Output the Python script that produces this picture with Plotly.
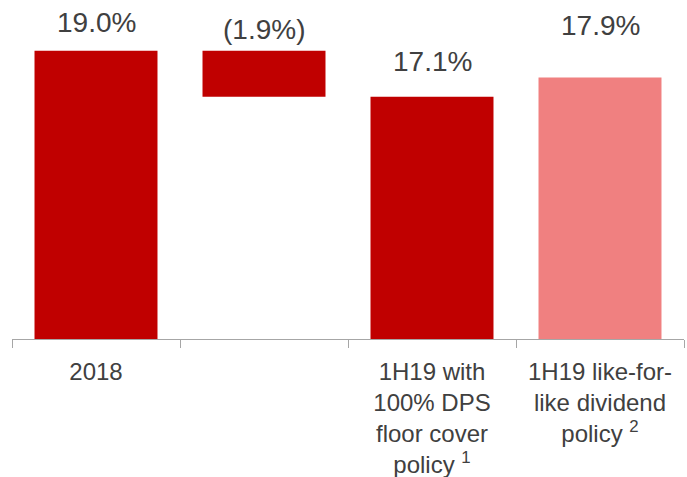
import plotly.graph_objects as go

# Capital ratio bridge: 2018 -> 1H19
category_keys = ["FY2018", "movement", "1H19 floor", "1H19 like-for-like"]
tick_labels = [
    "2018",
    "",
    "1H19 with<br>100% DPS<br>floor cover<br>policy <sup>1</sup>",
    "1H19 like-for-<br>like dividend<br>policy <sup>2</sup>",
]
values = [19.0, -1.9, 17.1, 17.9]          # % ; second entry is the movement
is_step = [False, True, False, False]        # floating (bridge) bar or total bar
value_labels = ["19.0%", "(1.9%)", "17.1%", "17.9%"]

# styling
bar_colors = ["#C00000", "#C00000", "#C00000", "#F08080"]
label_shift = [28, 21, 35, 52]               # px above bar top to label centre
text_color = "#404040"
font_family = "Liberation Sans, Arial, sans-serif"

# build bar heights / bases for the bridge
heights, bases, tops = [], [], []
running = 0.0
for v, step in zip(values, is_step):
    if step:
        start = running
        end = running + v
        bases.append(min(start, end))
        heights.append(abs(v))
        tops.append(max(start, end))
        running = end
    else:
        bases.append(0)
        heights.append(v)
        tops.append(v)
        running = v

fig = go.Figure(
    go.Bar(
        x=category_keys,
        y=heights,
        base=bases,
        marker=dict(color=bar_colors, line=dict(width=0)),
        hoverinfo="skip",
    )
)

# value labels, placed by category index
for i, (top, lab, dy) in enumerate(zip(tops, value_labels, label_shift)):
    fig.add_annotation(
        x=i, y=top, text=lab, showarrow=False,
        yanchor="middle", yshift=dy,
        font=dict(size=28, color=text_color, family=font_family),
    )

fig.update_layout(
    width=687, height=477,
    margin=dict(l=12, r=3, t=0, b=138),
    paper_bgcolor="white", plot_bgcolor="white",
    bargap=0.268,
    showlegend=False,
    font=dict(family=font_family, color=text_color),
)
fig.update_xaxes(
    type="category",
    categoryorder="array", categoryarray=category_keys,
    range=[-0.5, len(category_keys) - 0.5],
    tickmode="array", tickvals=category_keys, ticktext=tick_labels,
    tickangle=0,
    showline=True, linecolor="#A6A6A6", linewidth=1,
    ticks="outside", tickson="boundaries", ticklen=8, tickcolor="#A6A6A6",
    ticklabelstandoff=11,
    tickfont=dict(size=24, color=text_color, family=font_family),
    showgrid=False, zeroline=False,
)
fig.update_yaxes(range=[7.1, 21.1], visible=False, showgrid=False, zeroline=False)

fig.write_html("out.html")
